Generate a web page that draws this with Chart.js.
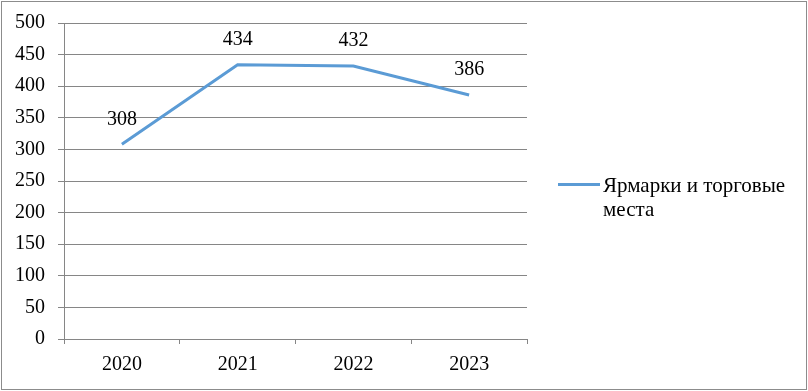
<!DOCTYPE html>
<html>
<head>
<meta charset="utf-8">
<script src="https://cdn.jsdelivr.net/npm/chart.js@4"></script>
<style>
    html, body { margin: 0; padding: 0; background: #fff; }
    #wrap { position: relative; width: 808px; height: 391px; }
    #frame {
        position: absolute; left: 1px; top: 1px; width: 806px; height: 389px;
        box-sizing: border-box; border: 1px solid #8c8c8c; pointer-events: none;
    }
    #legend {
        position: absolute; left: 558px; top: 173px;
        font: 21px 'Liberation Serif', 'Times New Roman', serif; line-height: 24px; color: #000;
    }
    #legend .swatch {
        position: absolute; left: 0; top: 10px; width: 42px; height: 3px; background: #5b9bd5;
    }
    #legend .text { margin-left: 45px; width: 205px; }
</style>
</head>
<body>
<div id="wrap">
    <canvas id="chart" width="808" height="391"></canvas>
    <div id="frame"></div>
    <div id="legend"><span class="swatch"></span><div class="text" id="legendText"></div></div>
</div>
<script>
// Data
const years = ['2020', '2021', '2022', '2023'];
const fairs = [308, 434, 432, 386];
const seriesName = 'Ярмарки и торговые места';

const FONT = { family: "'Liberation Serif', 'Times New Roman', serif", size: 20 };
const GRID = '#868686';

document.getElementById('legendText').textContent = seriesName;

// Value labels above the points
const valueLabels = {
    id: 'valueLabels',
    afterDatasetsDraw(chart) {
        const ctx = chart.ctx;
        const meta = chart.getDatasetMeta(0);
        ctx.save();
        ctx.font = `${FONT.size}px ${FONT.family}`;
        ctx.fillStyle = '#000';
        ctx.textAlign = 'center';
        ctx.textBaseline = 'middle';
        meta.data.forEach((pt, i) => {
            ctx.fillText(String(fairs[i]), pt.x, pt.y - 25);
        });
        ctx.restore();
    },
};

new Chart(document.getElementById('chart'), {
    type: 'line',
    data: {
        labels: years,
        datasets: [
            {
                label: seriesName,
                data: fairs,
                borderColor: '#5b9bd5',
                borderWidth: 3,
                pointRadius: 0,
                tension: 0,
                fill: false,
            },
        ],
    },
    options: {
        responsive: false,
        animation: false,
        layout: {
            padding: { top: 22, right: 281, bottom: 0, left: 0 },
        },
        plugins: {
            legend: { display: false },
            tooltip: { enabled: false },
        },
        scales: {
            x: {
                offset: true,
                grid: {
                    offset: true,
                    drawOnChartArea: false,
                    drawTicks: true,
                    tickLength: 5,
                    color: GRID,
                },
                border: { color: GRID },
                ticks: { color: '#000', font: FONT, padding: 9, maxRotation: 0 },
                afterFit: (scale) => { scale.height = 52; },
            },
            y: {
                min: 0,
                max: 500,
                grid: { color: GRID, tickLength: 6 },
                border: { color: GRID },
                ticks: {
                    color: '#000',
                    font: { ...FONT, lineHeight: 1 },
                    stepSize: 50,
                    padding: 13,
                },
                afterFit: (scale) => { scale.width = 64; },
            },
        },
    },
    plugins: [valueLabels],
});
</script>
</body>
</html>
